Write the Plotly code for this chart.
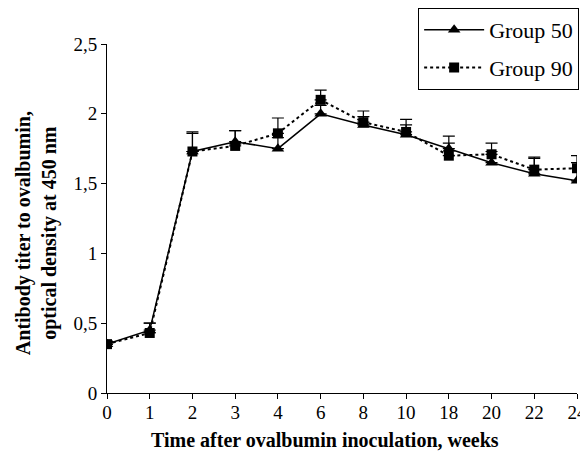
import plotly.graph_objects as go

weeks = ["0", "1", "2", "3", "4", "6", "8", "10", "18", "20", "22", "24"]
group50 = [0.35, 0.45, 1.73, 1.80, 1.75, 2.00, 1.92, 1.85, 1.75, 1.65, 1.57, 1.52]
group50_err = [0.02, 0.05, 0.13, 0.08, 0.08, 0.06, 0.06, 0.07, 0.04, 0.08, 0.11, 0.13]
group90 = [0.35, 0.43, 1.73, 1.77, 1.86, 2.10, 1.94, 1.87, 1.70, 1.71, 1.60, 1.61]
group90_err = [0.02, 0.07, 0.14, 0.11, 0.11, 0.07, 0.08, 0.09, 0.14, 0.08, 0.09, 0.09]

x_title = "<b>Time after ovalbumin inoculation, weeks</b>"
y_title = "<b>Antibody titer to ovalbumin,<br>optical density at 450 nm</b>"

font_family = "Liberation Serif"

fig = go.Figure()
fig.add_trace(go.Scatter(
    x=weeks, y=group50, mode="lines+markers", name="Group 50",
    legendgroup="g50",
    line=dict(color="black", width=1.5),
    marker=dict(symbol="triangle-up", size=11, color="black"),
    error_y=dict(type="data", symmetric=False, array=group50_err,
                 arrayminus=[0] * len(group50_err), color="black",
                 thickness=1.2, width=6),
))
fig.add_trace(go.Scatter(
    x=weeks, y=group90, mode="lines+markers", name="Group 90",
    legendgroup="g90",
    line=dict(color="black", width=2, dash="dot"),
    marker=dict(symbol="square", size=10, color="black"),
    error_y=dict(type="data", symmetric=False, array=group90_err,
                 arrayminus=[0] * len(group90_err), color="black",
                 thickness=1.2, width=6),
))

# page body adds an 8px offset; compensate in size/margins
fig.update_layout(
    width=580, height=444,
    margin=dict(l=99, r=11, t=36, b=59, autoexpand=False),
    plot_bgcolor="white", paper_bgcolor="white",
    font=dict(family=font_family, color="black", size=19),
    showlegend=True,
    legend=dict(x=0.662, y=1.103, xanchor="left", yanchor="top",
                bordercolor="black", borderwidth=1, bgcolor="white",
                font=dict(size=22, family=font_family),
                itemwidth=60, tracegroupgap=6),
    xaxis=dict(
        type="category", range=[0, 11], automargin=False,
        showline=True, linecolor="black", linewidth=1,
        ticks="outside", ticklen=5, tickcolor="black",
        showgrid=False, zeroline=False, ticklabelstandoff=-3,
        tickfont=dict(size=19, family=font_family),
    ),
    yaxis=dict(
        range=[0, 2.5], tickvals=[0, 0.5, 1, 1.5, 2, 2.5], automargin=False,
        ticktext=["0", "0,5", "1", "1,5", "2", "2,5"],
        showline=True, linecolor="black", linewidth=1,
        ticks="outside", ticklen=5, tickcolor="black",
        showgrid=False, zeroline=False,
        tickfont=dict(size=19, family=font_family),
    ),
    annotations=[
        dict(text=x_title, xref="paper", yref="paper", x=0.464, y=-0.135,
             xanchor="center", yanchor="middle", showarrow=False,
             font=dict(size=20, family=font_family)),
        dict(text=y_title, xref="paper", yref="paper", x=-0.151, y=0.458,
             xanchor="center", yanchor="middle", showarrow=False, textangle=-90,
             font=dict(size=20, family=font_family)),
    ],
)

fig.write_html("out.html")
